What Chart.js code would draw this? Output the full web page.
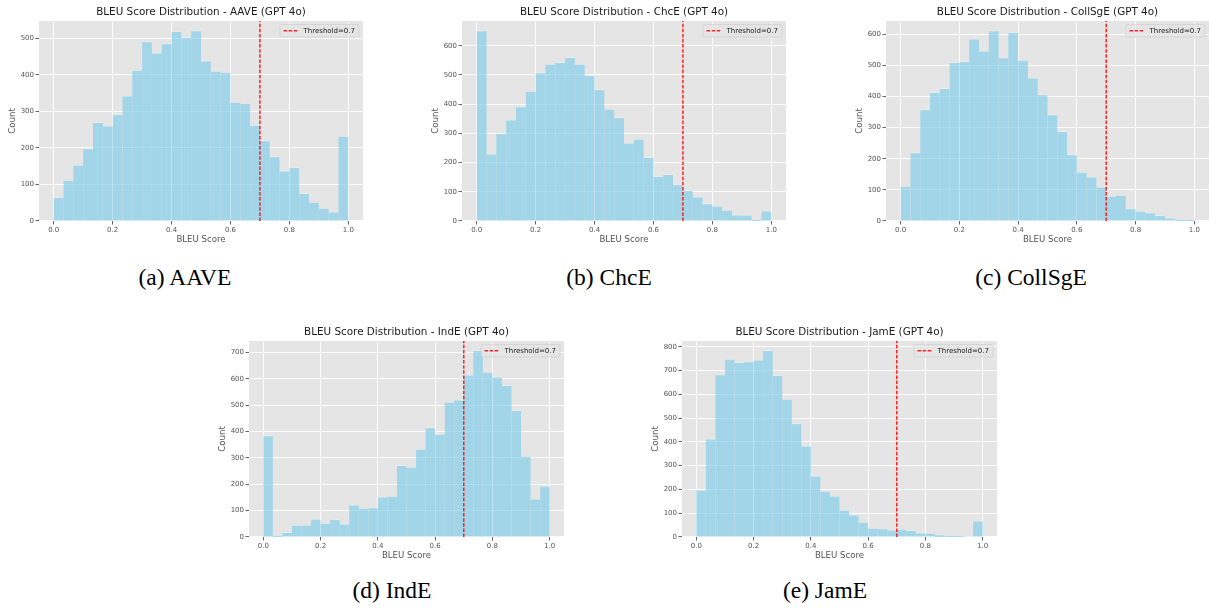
<!DOCTYPE html>
<html>
<head>
<meta charset="utf-8">
<script src="https://cdn.jsdelivr.net/npm/chart.js@4.4.1/dist/chart.umd.min.js"></script>
<style>
  html, body { margin:0; padding:0; background:#fff; overflow:hidden; }
  #fig { position:relative; width:1209px; height:608px; overflow:hidden; }
  canvas { position:absolute; }
  .cap { position:absolute; font-family:"Liberation Serif","Times New Roman",serif; font-size:23.5px; color:#000; transform:translate(-50%,-50%); white-space:nowrap; }
</style>
</head>
<body>
<div id="fig">
  <canvas id="cA" width="404" height="248" style="left:-1px;top:1px;"></canvas>
  <canvas id="cB" width="404" height="248" style="left:422px;top:1px;"></canvas>
  <canvas id="cC" width="403" height="248" style="left:846px;top:1px;"></canvas>
  <canvas id="cD" width="395" height="244" style="left:209px;top:321px;"></canvas>
  <canvas id="cE" width="395" height="244" style="left:642px;top:321px;"></canvas>
  <div class="cap" style="left:185px;top:277px;">(a) AAVE</div>
  <div class="cap" style="left:609px;top:277px;">(b) ChcE</div>
  <div class="cap" style="left:1031px;top:277px;">(c) CollSgE</div>
  <div class="cap" style="left:392px;top:590px;">(d) IndE</div>
  <div class="cap" style="left:825px;top:590px;">(e) JamE</div>
</div>
<script>
// ---- Data (30 equal-width bins on [0, 1]) ----
const BIN_MIN = 0, BIN_MAX = 1, BIN_COUNT = 30;
const THRESHOLD = 0.7;
const xTickLabels = [0.0, 0.2, 0.4, 0.6, 0.8, 1.0];

const countsAAVE = [65,112,153,198,270,260,292,342,413,491,460,485,519,502,521,438,410,407,325,322,262,220,176,137,147,76,52,35,25,232];
const countsChcE = [652,230,300,346,392,445,508,537,543,560,537,499,450,383,354,267,280,218,153,160,125,105,83,60,52,37,21,20,3,35];
const countsCollSgE = [112,220,358,413,426,510,512,585,547,612,525,606,517,460,406,342,288,213,157,142,110,80,83,40,32,27,18,10,3,3];
const countsIndE = [385,5,18,45,45,68,53,67,50,122,110,112,152,155,272,265,333,415,390,512,520,615,708,625,607,575,480,307,145,193];
const countsJamE = [198,413,683,748,735,738,745,785,680,580,478,383,257,193,173,113,93,63,38,35,30,33,28,18,17,10,5,3,0,68];

const yTicksAAVE = [0,100,200,300,400,500];
const yTicksChcE = [0,100,200,300,400,500,600];
const yTicksCollSgE = [0,100,200,300,400,500,600];
const yTicksIndE = [0,100,200,300,400,500,600,700];
const yTicksJamE = [0,100,200,300,400,500,600,700,800];

const titles = {
  A: 'BLEU Score Distribution - AAVE (GPT 4o)',
  B: 'BLEU Score Distribution - ChcE (GPT 4o)',
  C: 'BLEU Score Distribution - CollSgE (GPT 4o)',
  D: 'BLEU Score Distribution - IndE (GPT 4o)',
  E: 'BLEU Score Distribution - JamE (GPT 4o)'
};
const xLabel = 'BLEU Score';
const yLabel = 'Count';
const legendLabel = 'Threshold=0.7';

// ---- Styling ----
const FONT = "'DejaVu Sans', sans-serif";
const BG = '#E5E5E5';
const TICK_COLOR = '#555555';

const bgPlugin = {
  id: 'plotBg',
  beforeDraw(chart) {
    const {ctx, chartArea: a} = chart;
    ctx.save();
    ctx.fillStyle = BG;
    ctx.fillRect(a.left, a.top, a.right - a.left, a.bottom - a.top);
    ctx.restore();
  }
};

const legendPlugin = {
  id: 'boxLegend',
  afterDatasetsDraw(chart) {
    const ds = chart.data.datasets.find(d => d.type === 'line');
    if (!ds) return;
    const {ctx, chartArea: a} = chart;
    ctx.save();
    ctx.font = "7px " + FONT;
    const tw = ctx.measureText(ds.label).width;
    const lineLen = 15, padL = 3.5, gap = 5, padR = 4, h = 12.5;
    const w = padL + lineLen + gap + tw + padR;
    const x0 = a.right - 4 - w, y0 = a.top + 3.5;
    ctx.fillStyle = 'rgba(229,229,229,0.8)';
    ctx.strokeStyle = 'rgba(204,204,204,0.8)';
    ctx.lineWidth = 0.8;
    ctx.beginPath();
    if (ctx.roundRect) ctx.roundRect(x0, y0, w, h, 2); else ctx.rect(x0, y0, w, h);
    ctx.fill(); ctx.stroke();
    ctx.strokeStyle = ds.borderColor;
    ctx.lineWidth = ds.borderWidth;
    ctx.setLineDash(ds.borderDash);
    ctx.beginPath();
    ctx.moveTo(x0 + padL, y0 + h/2);
    ctx.lineTo(x0 + padL + lineLen, y0 + h/2);
    ctx.stroke();
    ctx.setLineDash([]);
    ctx.fillStyle = '#222';
    ctx.textBaseline = 'middle';
    ctx.textAlign = 'left';
    ctx.fillText(ds.label, x0 + padL + lineLen + gap, y0 + h/2 + 0.5);
    ctx.restore();
  }
};

function makeHist(id, title, counts, yTicks) {
  const binW = (BIN_MAX - BIN_MIN) / BIN_COUNT;
  const bars = counts.map((c, i) => ({x: BIN_MIN + (i + 0.5) * binW, y: c}));
  const yMax = Math.max(...counts) * 1.05;
  const xMin = BIN_MIN - 0.05 * (BIN_MAX - BIN_MIN);
  const xMax = BIN_MAX + 0.05 * (BIN_MAX - BIN_MIN);
  new Chart(document.getElementById(id), {
    type: 'bar',
    data: {
      datasets: [
        {
          type: 'bar',
          label: 'counts',
          data: bars,
          backgroundColor: 'rgba(135,206,235,0.7)',
          borderColor: 'rgba(240,248,252,0.3)',
          borderWidth: {top: 1, left: 0, right: 0, bottom: 0},
          barPercentage: 1.0,
          categoryPercentage: 1.0,
          order: 2
        },
        {
          type: 'line',
          label: legendLabel,
          data: [{x: THRESHOLD, y: 0}, {x: THRESHOLD, y: yMax}],
          borderColor: 'rgba(255,0,0,0.85)',
          borderWidth: 1.5,
          borderDash: [3.5, 1.6],
          pointRadius: 0,
          fill: false,
          order: 1
        }
      ]
    },
    options: {
      responsive: false,
      animation: false,
      events: [],
      layout: { padding: { left: 0, right: 40, top: 0, bottom: 0 } },
      plugins: {
        legend: { display: false },
        tooltip: { enabled: false },
        title: {
          display: true,
          fullSize: false,
          text: title,
          color: '#1a1a1a',
          font: { family: FONT, size: 10.4, weight: 'normal', lineHeight: 1.2 },
          padding: { top: 5, bottom: 2.5 }
        }
      },
      scales: {
        x: {
          type: 'linear',
          min: xMin, max: xMax,
          offset: false,
          grid: { color: '#ffffff', lineWidth: 0.9, offset: false, tickColor: TICK_COLOR, tickLength: 3.5, drawTicks: true },
          border: { display: false },
          afterBuildTicks: s => { s.ticks = xTickLabels.map(v => ({value: v})); },
          afterFit: s => { s.height = 28; },
          ticks: {
            color: TICK_COLOR, font: { family: FONT, size: 7 }, padding: 1.5, maxRotation: 0,
            callback: v => Number(v).toFixed(1)
          },
          title: { display: true, text: xLabel, color: TICK_COLOR, font: { family: FONT, size: 8.6 }, padding: { top: 0, bottom: 4 } }
        },
        y: {
          type: 'linear',
          min: 0, max: yMax,
          grid: { color: '#ffffff', lineWidth: 0.9, tickColor: TICK_COLOR, tickLength: 3.5, drawTicks: true },
          border: { display: false },
          afterBuildTicks: s => { s.ticks = yTicks.map(v => ({value: v})); },
          afterFit: s => { s.width = 40; },
          ticks: { color: TICK_COLOR, font: { family: FONT, size: 7 }, padding: 1.5 },
          title: { display: true, text: yLabel, color: TICK_COLOR, font: { family: FONT, size: 8.6 }, padding: { top: 8.5, bottom: 0 } }
        }
      }
    },
    plugins: [bgPlugin, legendPlugin]
  });
}

makeHist('cA', titles.A, countsAAVE, yTicksAAVE);
makeHist('cB', titles.B, countsChcE, yTicksChcE);
makeHist('cC', titles.C, countsCollSgE, yTicksCollSgE);
makeHist('cD', titles.D, countsIndE, yTicksIndE);
makeHist('cE', titles.E, countsJamE, yTicksJamE);
</script>
</body>
</html>
